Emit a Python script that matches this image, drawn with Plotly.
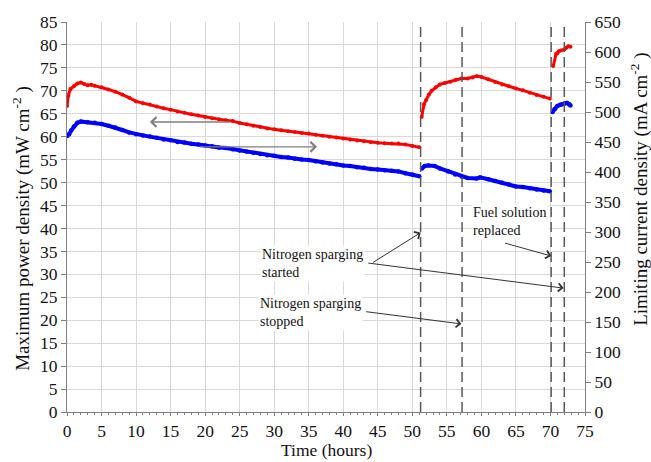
import plotly.graph_objects as go

# ---- Data ----
# Maximum power density (mW cm-2), left axis
red_t1 = [0.0, 0.2, 0.5, 1.0, 1.5, 2.0, 2.5, 3.0, 3.5, 4, 5, 6, 7, 8, 9, 10, 11, 12, 13, 14, 15, 16, 17,
          18, 19, 20, 21, 22, 23, 24, 25, 26, 27, 28, 29, 30, 31, 32, 33, 34, 35, 36, 37, 38, 39, 40,
          41, 42, 43, 44, 45, 46, 47, 48, 49, 50, 51]
red_v1 = [66.7, 69.0, 70.4, 71.0, 71.6, 71.8, 71.5, 71.2, 71.3, 71.1, 70.8, 70.3, 69.8, 69.2, 68.5, 67.7,
          67.3, 67.0, 66.6, 66.2, 65.9, 65.5, 65.2, 64.9, 64.6, 64.3, 64.0, 63.8, 63.6, 63.4, 63.0, 62.7,
          62.4, 62.1, 61.8, 61.6, 61.4, 61.2, 61.0, 60.8, 60.7, 60.4, 60.2, 60.0, 59.8, 59.6, 59.4, 59.2,
          59.0, 58.8, 58.7, 58.6, 58.5, 58.5, 58.3, 58.0, 57.7]
red_t2 = [51.35, 51.7, 52.0, 52.4, 52.8, 53.4, 54.0, 54.7, 55.5, 56.3, 57.1, 58.0, 58.7, 59.3, 60.0, 61.0,
          62.0, 63.0, 64.0, 65.0, 66.0, 67.0, 68.0, 69.0, 69.9]
red_v2 = [64.3, 67.1, 68.0, 69.2, 70.0, 70.8, 71.4, 71.7, 72.0, 72.4, 72.7, 72.7, 72.9, 73.2, 73.0, 72.5,
          71.9, 71.4, 71.0, 70.5, 70.1, 69.6, 69.1, 68.7, 68.3]
red_t3 = [70.4, 70.8, 71.0, 71.2, 71.5, 72.0, 72.3, 72.6, 72.9]
red_v3 = [75.4, 78.0, 78.2, 78.6, 78.8, 79.0, 79.4, 79.7, 79.6]

# Limiting current density (mA cm-2), right axis
blue_t1 = [0.0, 0.3, 0.6, 1.0, 1.5, 2.0, 3, 4, 5, 6, 7, 8, 9, 10, 11, 12, 13, 14, 15, 16, 17, 18, 19,
           20, 21, 22, 23, 24, 25, 26, 27, 28, 29, 30, 31, 32, 33, 34, 35, 36, 37, 38, 39, 40, 41, 42,
           43, 44, 45, 46, 47, 48, 49, 50, 51]
blue_v1 = [460, 463, 469, 476, 482, 484, 483, 482, 480, 477, 474, 470, 466, 463, 461, 459, 457, 454, 453,
           450, 449, 447, 446, 444, 443, 441, 440, 438, 436, 434, 432, 430, 428, 427, 425, 424, 422, 421,
           420, 418, 416, 414, 413, 411, 410, 408, 407, 405, 404, 403, 402, 401, 398, 396, 393]
blue_t2 = [51.4, 51.8, 52.3, 53.2, 54.0, 55.2, 56.2, 57.2, 58.0, 59.3, 59.8, 61, 62, 63, 64, 65, 66, 67,
           68, 69, 69.9]
blue_v2 = [406, 410, 411, 410, 406, 401, 396, 392, 390, 389, 391, 388, 385, 382, 379, 376, 375, 373, 371,
           369, 368]
blue_t3 = [70.3, 70.6, 71.0, 71.4, 71.7, 72.0, 72.4, 72.7, 72.9]
blue_v3 = [500, 505, 510, 512, 513, 514, 515, 513, 511]

# Event times (dashed lines)
event_times = [51.2, 57.2, 70.1, 72.0]

x_ticks = list(range(0, 80, 5))
y_left_ticks = list(range(0, 90, 5))
y_right_ticks = list(range(0, 700, 50))


def join(*segs):
    xs, ys = [], []
    for i, (t, v) in enumerate(segs):
        if i:
            xs.append(None)
            ys.append(None)
        xs += t
        ys += v
    return xs, ys


rx, ry = join((red_t1, red_v1), (red_t2, red_v2), (red_t3, red_v3))
bx, by = join((blue_t1, blue_v1), (blue_t2, blue_v2), (blue_t3, blue_v3))

FONT = "Liberation Serif"

fig = go.Figure()
fig.add_trace(go.Scatter(x=rx, y=ry, mode="lines+markers", line=dict(color="#ff0000", width=3),
                         marker=dict(color="#ff0000", size=4), connectgaps=False,
                         name="Maximum power density", yaxis="y"))
fig.add_trace(go.Scatter(x=bx, y=by, mode="lines+markers", line=dict(color="#0000ff", width=4),
                         marker=dict(color="#0000ff", size=4.5), connectgaps=False,
                         name="Limiting current density", yaxis="y2"))

shapes = []
for t in event_times:
    shapes.append(dict(type="line", xref="x", yref="y", x0=t, x1=t, y0=0, y1=85,
                       line=dict(color="#595959", width=1.5, dash="10px,5px")))

ann = []
txtfont = dict(family=FONT, size=14, color="#111")
# text labels
ann.append(dict(x=27.9, y=32.4, xref="x", yref="y", text="Nitrogen sparging<br>started", showarrow=False,
                xanchor="left", yanchor="middle", align="left", font=txtfont, bgcolor="white"))
ann.append(dict(x=27.7, y=21.6, xref="x", yref="y", text="Nitrogen sparging<br>stopped", showarrow=False,
                xanchor="left", yanchor="middle", align="left", font=txtfont, bgcolor="white"))
ann.append(dict(x=58.5, y=41.6, xref="x", yref="y", text="Fuel solution<br>replaced", showarrow=False,
                xanchor="left", yanchor="middle", align="left", font=txtfont, bgcolor="white"))

# arrows (head x,y ; tail ax,ay)
black_arrows = [
    (51.2, 39.1, 44.1, 32.4),
    (71.9, 27.0, 43.4, 32.5),
    (57.1, 19.2, 43.1, 21.9),
    (70.1, 34.0, 63.2, 36.9),
]
for hx, hy, tx, ty in black_arrows:
    ann.append(dict(x=hx, y=hy, ax=tx, ay=ty, xref="x", yref="y", axref="x", ayref="y", text="",
                    showarrow=True, arrowhead=4, arrowsize=1.6, arrowwidth=1, arrowcolor="#333333"))
gray_arrows = [
    (12.0, 63.2, 23.8, 63.2),
    (36.2, 57.8, 19.0, 57.8),
]
for hx, hy, tx, ty in gray_arrows:
    ann.append(dict(x=hx, y=hy, ax=tx, ay=ty, xref="x", yref="y", axref="x", ayref="y", text="",
                    showarrow=True, arrowhead=4, arrowsize=1.5, arrowwidth=1.3, arrowcolor="#7f7f7f"))

# axis titles
ann.append(dict(x=-0.087, y=0.472, xref="paper", yref="paper", showarrow=False, textangle=-90,
                text="Maximum power density (mW cm<sup>-2</sup> )", font=dict(family=FONT, size=19, color="#111"),
                xanchor="center", yanchor="middle"))
ann.append(dict(x=1.106, y=0.572, xref="paper", yref="paper", showarrow=False, textangle=-90,
                text="Limiting current density (mA cm<sup>-2</sup> )", font=dict(family=FONT, size=19, color="#111"),
                xanchor="center", yanchor="middle"))
ann.append(dict(x=0.5, y=-0.098, xref="paper", yref="paper", showarrow=False,
                text="Time (hours)", font=dict(family=FONT, size=17.5, color="#111"),
                xanchor="center", yanchor="middle"))

axis_common = dict(showline=True, linecolor="#7f7f7f", linewidth=1, ticks="outside", tickcolor="#7f7f7f",
                   zeroline=False, tickfont=dict(family=FONT, size=17.5, color="#111"))

fig.update_layout(
    width=651, height=462,
    margin=dict(l=67, r=66, t=22, b=50),
    paper_bgcolor="white", plot_bgcolor="white",
    showlegend=False,
    shapes=shapes, annotations=ann,
    xaxis=dict(range=[0, 75], tickvals=x_ticks, showgrid=True, gridcolor="#d9d9d9", ticklen=3,
               minor=dict(dtick=1, ticks="outside", ticklen=2, tickcolor="#7f7f7f", showgrid=False),
               **axis_common),
    yaxis=dict(range=[0, 85], tickvals=y_left_ticks, showgrid=True, gridcolor="#d9d9d9", ticklen=5,
               **axis_common),
    yaxis2=dict(range=[0, 650], tickvals=y_right_ticks, overlaying="y", side="right", showgrid=False,
                ticklen=5, **axis_common),
)

fig.write_html("out.html")
